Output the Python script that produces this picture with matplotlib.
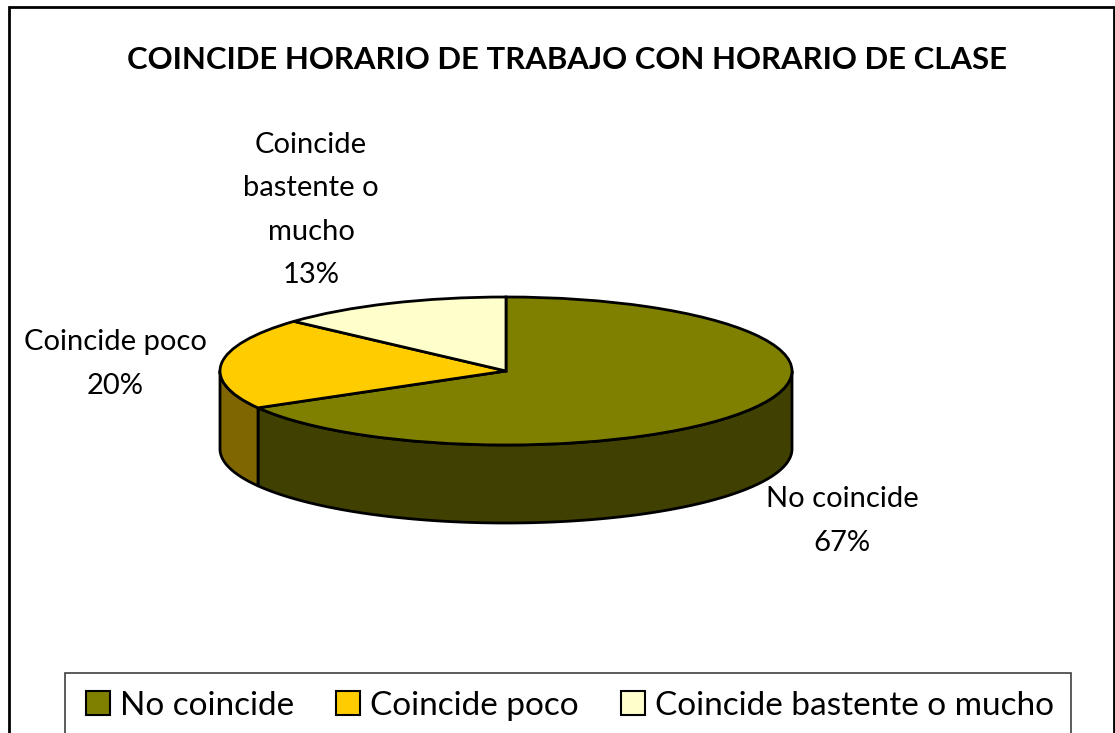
import numpy as np
import matplotlib
matplotlib.use("Agg")
import matplotlib.pyplot as plt
from matplotlib.patches import Rectangle

title = "COINCIDE HORARIO DE TRABAJO CON HORARIO DE CLASE"
categories = ["No coincide", "Coincide poco", "Coincide bastente o mucho"]
labels = ["No coincide\n67%", "Coincide poco\n20%", "Coincide\nbastente o\nmucho\n13%"]
values = [66.7, 20.0, 13.3]
colors = ["#808000", "#FFCC00", "#FFFFCC"]
side_colors = ["#404000", "#806600", "#808066"]

W, H = 1115, 733
CX, CY, RX, RY, DEPTH = 506, 371, 286, 74, 78

plt.rcParams["font.family"] = ["Lato", "DejaVu Sans"]
fig = plt.figure(figsize=(W / 100, H / 100), dpi=100)
ax = fig.add_axes([0, 0, 1, 1])

wedges, _ = ax.pie(values, colors=colors, startangle=90, counterclock=False, radius=1,
                   center=(0, 0), wedgeprops=dict(edgecolor="black", linewidth=2), frame=True, normalize=True)
for w in wedges:
    w.set_zorder(5)
ax.set_aspect("auto")
ax.set_xlim(-CX / RX, (W - CX) / RX)
ax.set_ylim((CY - H) / RY, CY / RY)
ax.axis("off")

# Side wall of the visible (front) part of each slice
d = DEPTH / RY
fracs = np.array(values) / sum(values)
ends = 90 - 360 * np.cumsum(fracs)
starts = np.r_[90, ends[:-1]]
for a0, a1, col in zip(starts, ends, side_colors):
    lo, hi = sorted((a0, a1))
    for shift in (-360, 0, 360):
        l = max(lo + shift, -180)
        h = min(hi + shift, 0)
        if h > l:
            t = np.radians(np.linspace(l, h, 200))
            x = np.cos(t)
            y = np.sin(t)
            px = np.r_[x, x[::-1]]
            py = np.r_[y, y[::-1] - d]
            ax.fill(px, py, facecolor=col, edgecolor="black", linewidth=2, zorder=3, joinstyle="round")

def tx(p):
    return (p - CX) / RX
def ty(p):
    return (CY - p) / RY

# Data labels
lab = dict(ha="center", va="center", fontsize=21.0, linespacing=1.82, color="black", zorder=6)
ax.text(tx(842), ty(521), labels[0], **lab)
ax.text(tx(115), ty(364), labels[1], **lab)
ax.text(tx(311), ty(210), labels[2], **lab)

# Title
ax.text(tx(567), ty(60), title, ha="center", va="center", fontsize=22.4, fontweight="bold", color="black", zorder=6)

# Chart frame
fig.add_artist(Rectangle((8.5 / W, -0.05), (1113.5 - 8.5) / W, 1.05 - 7.5 / H, transform=fig.transFigure,
                         fill=False, edgecolor="black", linewidth=2))

# Legend frame (runs past the bottom of the picture, as in the reference)
fig.add_artist(Rectangle((64.5 / W, -0.05), (1071 - 64.5) / W, 0.05 + 1 - 672.5 / H, transform=fig.transFigure,
                         facecolor="white", edgecolor="#404040", linewidth=1.2, zorder=7))

# Legend
handles = [Rectangle((0, 0), 1, 1, facecolor=c, edgecolor="black", linewidth=1.5) for c in colors]
leg = fig.legend(handles, categories, loc="upper left", bbox_to_anchor=(86 / W, 1 - 691 / H),
                 ncol=3, fontsize=24.0, frameon=False,
                 handlelength=0.72, handleheight=0.72, handletextpad=0.3, columnspacing=1.26,
                 borderpad=0, borderaxespad=0)
leg.set_zorder(8)

fig.savefig("out.png", dpi=100)
